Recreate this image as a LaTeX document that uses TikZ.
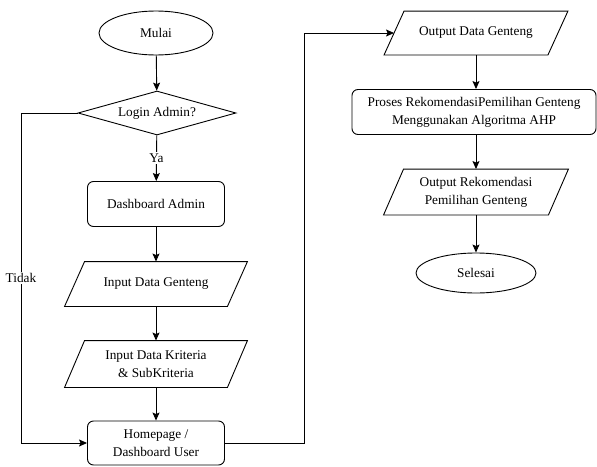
\documentclass[tikz,border=0pt]{standalone}
\usepackage{fontspec}
\setmainfont{Liberation Serif}
\usetikzlibrary{shapes.geometric,arrows.meta}
\begin{document}
\begin{tikzpicture}[x=1pt,y=1pt,
  font=\fontsize{13.3}{18}\selectfont,
  every node/.style={align=center,inner sep=0pt,line width=0.9pt},
  term/.style={draw,ellipse,minimum width=114pt,minimum height=44pt},
  procbox/.style={draw,rounded corners=6pt,minimum width=137pt,minimum height=45pt},
  iobox/.style={rectangle,minimum width=162pt,minimum height=44pt,
    append after command={\pgfextra{\let\lastio\tikzlastnode}
      ([xshift=10pt]\lastio.north west) -- ([xshift=10pt]\lastio.north east)
      -- ([xshift=-10pt]\lastio.south east) -- ([xshift=-10pt]\lastio.south west) -- cycle}},
  decision/.style={draw,diamond,aspect=3.6,minimum width=158pt,minimum height=44pt},
  conn/.style={line width=0.9pt,-{Stealth[length=8pt,width=7pt,inset=1.5pt]}},
  lbl/.style={fill=white,inner sep=1.5pt}]
\useasboundingbox (0,0) rectangle (597,-466);
\node[term] (mulai) at (156,-33) {Mulai};
\node[decision] (login) at (157,-113) {Login Admin?};
\node[procbox] (dash) at (156,-204) {Dashboard Admin};
\draw[line width=0.9pt] node[iobox] (ingent) at (156,-284) {Input Data Genteng};
\draw[line width=0.9pt] node[iobox,minimum height=46pt] (inkrit) at (156,-364) {Input Data Kriteria\\\& SubKriteria};
\node[procbox,minimum height=44pt] (home) at (156,-443) {Homepage /\\Dashboard User};
\draw[line width=0.9pt] node[iobox,minimum width=163pt,minimum height=43pt] (outgent) at (476,-33) {Output Data Genteng};
\node[procbox,minimum width=244pt] (proses) at (474,-112) {Proses RekomendasiPemilihan Genteng\\Menggunakan Algoritma AHP};
\draw[line width=0.9pt] node[iobox,minimum width=164pt,minimum height=45pt] (outrek) at (476,-192) {Output Rekomendasi\\Pemilihan Genteng};
\node[term,minimum width=120pt,minimum height=40pt] (selesai) at (476,-273) {Selesai};
\coordinate (tl) at (21,-113);
\coordinate (bl) at (21,-443);
\coordinate (br) at (304,-443);
\coordinate (tr) at (304,-33);

\draw[conn] (mulai) -- (login);
\draw[conn] (login) -- node[lbl,pos=0.5] {Ya} (dash);
\draw[conn] (dash) -- (ingent);
\draw[conn] (ingent) -- (inkrit);
\draw[conn] (inkrit) -- (home);
\draw[conn] (login.west) -- (tl) -- node[lbl,pos=0.5] {Tidak} (bl) -- (home.west);
\draw[conn] (home.east) -- (br) -- (tr) -- (outgent.west);
\draw[conn] (outgent.south) -- (outgent.south |- proses.north);
\draw[conn] (outgent.south |- proses.south) -- (outrek);
\draw[conn] (outrek) -- (selesai);
\end{tikzpicture}
\end{document}
